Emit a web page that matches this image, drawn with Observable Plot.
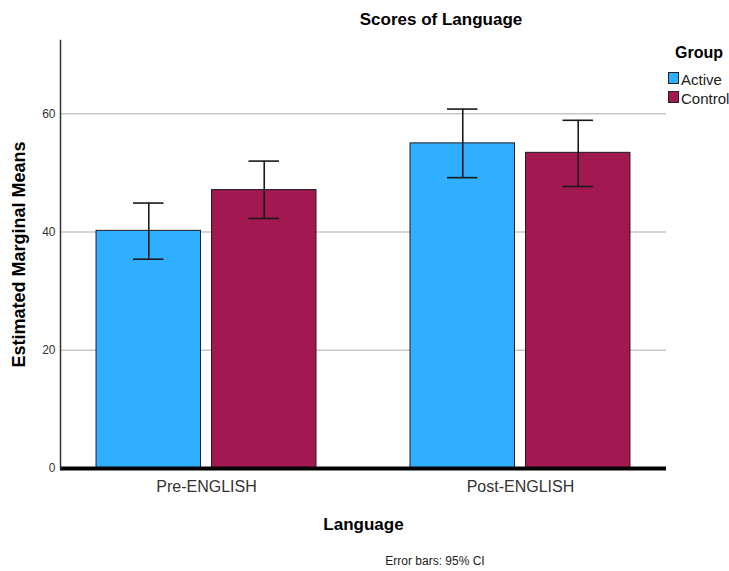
<!DOCTYPE html>
<html>
<head>
<meta charset="utf-8">
<script src="https://cdn.jsdelivr.net/npm/d3@7"></script>
<script src="https://cdn.jsdelivr.net/npm/@observablehq/plot@0.6"></script>
<style>
  body { margin: 0; background: #fff; font-family: "Liberation Sans", Arial, sans-serif; }
  #chart { position: relative; width: 729px; height: 571px; overflow: hidden; }
  #chart svg { position: absolute; left: 0; top: 0; }
  #chart g[aria-label="y-axis label"] { font-weight: bold; font-size: 18px; fill: #000; }
  #chart g[aria-label="fx-axis label"] { font-weight: bold; font-size: 17px; fill: #000; }
  .title { position: absolute; left: 291px; width: 300px; top: 11px; text-align: center; font-weight: bold; font-size: 17px; line-height: 17px; color: #000; }
  .caption { position: absolute; left: 335px; width: 200px; top: 555px; text-align: center; font-size: 12px; line-height: 12px; color: #222; }
  .legend-title { position: absolute; left: 675px; top: 45px; font-weight: bold; font-size: 16px; line-height: 16px; color: #000; }
  .legend-item { position: absolute; left: 668px; font-size: 15px; line-height: 15px; color: #222; white-space: nowrap; }
  .legend-item .sw { position: absolute; left: 0; width: 9px; height: 10px; border: 1px solid #222; }
  .legend-item .lb { position: absolute; left: 13px; top: 0; }
</style>
</head>
<body>
<div id="chart">
  <div class="title">Scores of Language</div>
  <div class="legend-title">Group</div>
  <div id="legend"></div>
  <div class="caption">Error bars: 95% CI</div>
</div>
<script>
// Estimated marginal means with 95% confidence limits, by test and group
const languages = ["Pre-ENGLISH", "Post-ENGLISH"];
const groups = ["Active", "Control"];
const activeMean = [40.2, 55.0];
const activeLower = [35.4, 49.2];
const activeUpper = [44.9, 60.8];
const controlMean = [47.1, 53.4];
const controlLower = [42.3, 47.7];
const controlUpper = [52.0, 58.9];
const yTicks = [0, 20, 40, 60];
const gridTicks = [20, 40, 60];
const groupColors = ["#30aeff", "#a11950"];

const rows = languages.flatMap((language, i) => [
  {language, group: groups[0], mean: activeMean[i], lower: activeLower[i], upper: activeUpper[i]},
  {language, group: groups[1], mean: controlMean[i], lower: controlLower[i], upper: controlUpper[i]}
]);

const chart = Plot.plot({
  width: 729,
  height: 571,
  marginTop: 40,
  marginBottom: 103,
  marginLeft: 60,
  marginRight: 63,
  style: { fontFamily: "Liberation Sans, Arial, sans-serif", background: "transparent", overflow: "visible" },
  fx: { domain: languages, paddingInner: 0.07, paddingOuter: 0, round: false, axis: null },
  x: { domain: groups, paddingInner: 0.095, paddingOuter: 0.312, round: false, axis: null },
  y: { domain: [0, 72.4], axis: null },
  color: { domain: groups, range: groupColors },
  marks: [
    // horizontal gridlines across the whole frame
    Plot.ruleY(gridTicks, { stroke: "#c6c6c6", strokeWidth: 1.5, facetAnchor: "left", insetRight: -314 }),
    Plot.barY(rows, { fx: "language", x: "group", y: "mean", fill: "group", stroke: "#1e1e1e", strokeWidth: 1 }),
    // confidence interval whiskers and caps
    Plot.ruleX(rows, { fx: "language", x: "group", y1: "lower", y2: "upper", stroke: "#1a1a1a", strokeWidth: 1.6 }),
    Plot.tickY(rows, { fx: "language", x: "group", y: "lower", inset: 37, stroke: "#1a1a1a", strokeWidth: 1.6 }),
    Plot.tickY(rows, { fx: "language", x: "group", y: "upper", inset: 37, stroke: "#1a1a1a", strokeWidth: 1.6 }),
    // heavy baseline at zero and the vertical axis line
    Plot.ruleY([0], { stroke: "#000", strokeWidth: 4, facetAnchor: "left", insetRight: -314 }),
    Plot.frame({ anchor: "left", facetAnchor: "left", stroke: "#333", strokeWidth: 1.5 }),
    Plot.axisY({ ticks: yTicks, tickSize: 0, tickPadding: 5, fontSize: 12, color: "#333",
      label: "Estimated Marginal Means", labelAnchor: "center", labelArrow: "none", labelOffset: 48 }),
    Plot.axisFx({ anchor: "bottom", tickSize: 0, tickPadding: 12, fontSize: 16, color: "#333",
      label: "Language", labelAnchor: "center", labelArrow: "none", labelOffset: 61 })
  ]
});
document.getElementById("chart").prepend(chart);

// group legend
const legend = document.getElementById("legend");
groups.forEach((g, i) => {
  const item = document.createElement("div");
  item.className = "legend-item";
  item.style.top = (72 + i * 19) + "px";
  const sw = document.createElement("span");
  sw.className = "sw";
  sw.style.background = groupColors[i];
  sw.style.top = "0px";
  const lb = document.createElement("span");
  lb.className = "lb";
  lb.textContent = g;
  item.append(sw, lb);
  legend.append(item);
});
</script>
</body>
</html>
